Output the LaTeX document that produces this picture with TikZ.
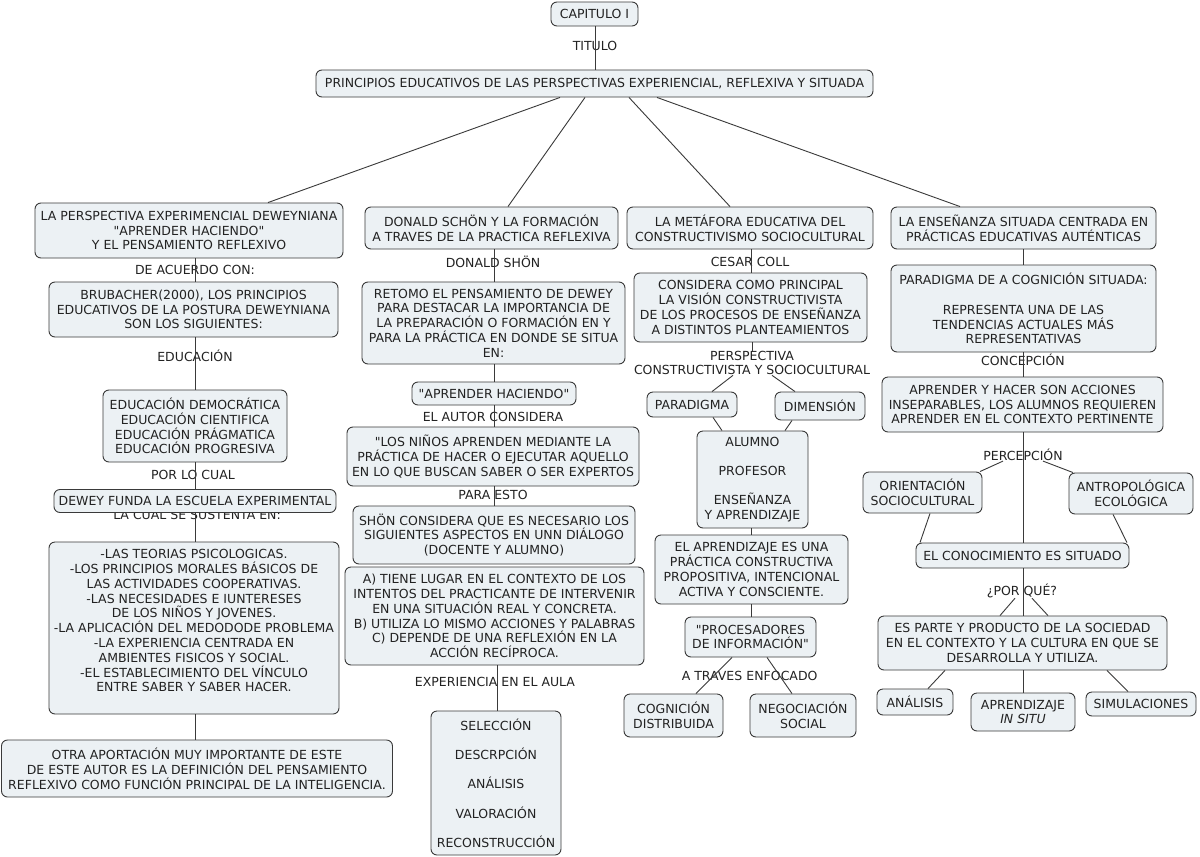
\documentclass[tikz,border=0pt]{standalone}
\usepackage{fontspec}
\setmainfont{DejaVu Sans}
\newfontfamily\mapfont{DejaVu Sans}
\definecolor{boxfill}{HTML}{ECF1F4}
\definecolor{edge}{HTML}{3A3A3A}
\definecolor{ink}{HTML}{222222}
\tikzset{
  cbox/.style={draw=edge, fill=boxfill, rounded corners=6pt, line width=0.9pt,
    align=center, text=ink, font=\mapfont\fontsize{12.5}{14.8}\selectfont, inner sep=0pt},
  sz/.style 2 args={minimum width=#1pt, minimum height=#2pt},
  lbl/.style={text=ink, font=\mapfont\fontsize{12.5}{14.8}\selectfont, inner sep=0pt, align=center},
  link/.style={draw=edge, line width=0.9pt}
}
\begin{document}
\begin{tikzpicture}[x=1pt,y=-1pt]
\fill[white] (0,0) rectangle (1200,857);
\useasboundingbox (0,0) rectangle (1200,857);

\coordinate (colTop) at (595,0);
\coordinate (colA) at (195,0);
\coordinate (colB) at (494,0);
\coordinate (colB2) at (497,0);
\coordinate (colC) at (751,0);
\coordinate (colD) at (1023,0);

% top
\node[cbox, sz={87}{24}] (cap) at (594.5,14) {CAPITULO I};
\node[lbl] (ltit) at (595,46) {TITULO};
\node[cbox, sz={557}{27}] (princ) at (594.5,83.5) {PRINCIPIOS EDUCATIVOS DE LAS PERSPECTIVAS EXPERIENCIAL, REFLEXIVA Y SITUADA};

% column 1
\node[cbox, sz={308}{55}] (c1) at (189,230.5) {LA PERSPECTIVA EXPERIMENCIAL DEWEYNIANA\\"APRENDER HACIENDO"\\Y EL PENSAMIENTO REFLEXIVO};
\node[lbl] (l1) at (195,270) {DE ACUERDO CON:};
\node[cbox, sz={289}{55}] (c2) at (193.5,309.5) {BRUBACHER(2000), LOS PRINCIPIOS\\EDUCATIVOS DE LA POSTURA DEWEYNIANA\\SON LOS SIGUIENTES:};
\node[lbl] (l2) at (195,356) {EDUCACIÓN};
\node[cbox, sz={184}{72}] (c3) at (195,426) {EDUCACIÓN DEMOCRÁTICA\\EDUCACIÓN CIENTIFICA\\EDUCACIÓN PRÁGMATICA\\EDUCACIÓN PROGRESIVA};
\node[lbl] (l3) at (193,475) {POR LO CUAL};
\node[lbl] (l4) at (197,515) {LA CUAL SE SUSTENTA EN:};
\node[cbox, sz={282}{23}] (c4) at (195,501) {DEWEY FUNDA LA ESCUELA EXPERIMENTAL};
\node[cbox, sz={290}{172}] (c5) at (194,628) {-LAS TEORIAS PSICOLOGICAS.\\-LOS PRINCIPIOS MORALES BÁSICOS DE\\LAS ACTIVIDADES COOPERATIVAS.\\-LAS NECESIDADES E IUNTERESES\\DE LOS NIÑOS Y JOVENES.\\-LA APLICACIÓN DEL MEDODODE PROBLEMA\\-LA EXPERIENCIA CENTRADA EN\\AMBIENTES FISICOS Y SOCIAL.\\-EL ESTABLECIMIENTO DEL VÍNCULO\\ENTRE SABER Y SABER HACER.\\\mbox{}};
\node[cbox, sz={391}{57}] (c6) at (197,768.5) {OTRA APORTACIÓN MUY IMPORTANTE DE ESTE\\DE ESTE AUTOR ES LA DEFINICIÓN DEL PENSAMIENTO\\REFLEXIVO COMO FUNCIÓN PRINCIPAL DE LA INTELIGENCIA.};

% column 2
\node[cbox, sz={253}{42}] (d1) at (491.5,228) {DONALD SCHÖN Y LA FORMACIÓN\\A TRAVES DE LA PRACTICA REFLEXIVA};
\node[lbl] (m1) at (493,262) {DONALD SHÖN};
\node[cbox, sz={263}{82}] (d2) at (493.5,323) {RETOMO EL PENSAMIENTO DE DEWEY\\PARA DESTACAR LA IMPORTANCIA DE\\LA PREPARACIÓN O FORMACIÓN EN Y\\PARA LA PRÁCTICA EN DONDE SE SITUA\\EN:};
\node[cbox, sz={164}{23}] (d3) at (494,393.5) {"APRENDER HACIENDO"};
\node[lbl] (m2) at (493,417) {EL AUTOR CONSIDERA};
\node[cbox, sz={292}{59}] (d4) at (493,456.5) {"LOS NIÑOS APRENDEN MEDIANTE LA\\PRÁCTICA DE HACER O EJECUTAR AQUELLO\\EN LO QUE BUSCAN SABER O SER EXPERTOS};
\node[lbl] (m3) at (493,495) {PARA ESTO};
\node[cbox, sz={282}{58}] (d5) at (494,535) {SHÖN CONSIDERA QUE ES NECESARIO LOS\\SIGUIENTES ASPECTOS EN UNN DIÁLOGO\\(DOCENTE Y ALUMNO)};
\node[cbox, sz={299}{98}] (d6) at (494.5,616) {A) TIENE LUGAR EN EL CONTEXTO DE LOS\\INTENTOS DEL PRACTICANTE DE INTERVENIR\\EN UNA SITUACIÓN REAL Y CONCRETA.\\B) UTILIZA LO MISMO ACCIONES Y PALABRAS\\C) DEPENDE DE UNA REFLEXIÓN EN LA\\ACCIÓN RECÍPROCA.};
\node[lbl] (m4) at (495,682) {EXPERIENCIA EN EL AULA};
\node[cbox, sz={130}{144}] (d7) at (496,783) {SELECCIÓN\\[14.5pt]DESCRPCIÓN\\[14.5pt]ANÁLISIS\\[14.5pt]VALORACIÓN\\[14.5pt]RECONSTRUCCIÓN};

% column 3
\node[cbox, sz={246}{42}] (e1) at (750,228) {LA METÁFORA EDUCATIVA DEL\\CONSTRUCTIVISMO SOCIOCULTURAL};
\node[lbl] (n1) at (750,262) {CESAR COLL};
\node[cbox, sz={233}{69}] (e2) at (750.5,307.5) {CONSIDERA COMO PRINCIPAL\\LA VISIÓN CONSTRUCTIVISTA\\DE LOS PROCESOS DE ENSEÑANZA\\A DISTINTOS PLANTEAMIENTOS};
\node[lbl] (pl) at (752,363) {PERSPECTIVA\\CONSTRUCTIVISTA Y SOCIOCULTURAL};
\node[cbox, sz={90}{25}] (e3) at (692,404.5) {PARADIGMA};
\node[cbox, sz={90}{28}] (e4) at (820,406) {DIMENSIÓN};
\node[cbox, sz={111}{97}] (e5) at (752.5,479.5) {ALUMNO\\[14.5pt]PROFESOR\\[14.5pt]ENSEÑANZA\\Y APRENDIZAJE};
\node[cbox, sz={193}{69}] (e6) at (751.5,569.5) {EL APRENDIZAJE ES UNA\\PRÁCTICA CONSTRUCTIVA\\PROPOSITIVA, INTENCIONAL\\ACTIVA Y CONSCIENTE.};
\node[cbox, sz={131}{40}] (e7) at (750.5,637) {"PROCESADORES\\DE INFORMACIÓN"};
\node[lbl] (n2) at (712,676) {A TRAVES};
\node[lbl] (n3) at (782,676) {ENFOCADO};
\node[cbox, sz={99}{43}] (e8) at (673.5,715.5) {COGNICIÓN\\DISTRIBUIDA};
\node[cbox, sz={106}{43}] (e9) at (803,715.5) {NEGOCIACIÓN\\SOCIAL};

% column 4
\node[cbox, sz={265}{42}] (f1) at (1023.5,228) {LA ENSEÑANZA SITUADA CENTRADA EN\\PRÁCTICAS EDUCATIVAS AUTÉNTICAS};
\node[cbox, sz={265}{87}] (f2) at (1023.5,308.5) {PARADIGMA DE A COGNICIÓN SITUADA:\\[14.8pt]REPRESENTA UNA DE LAS\\TENDENCIAS ACTUALES MÁS\\REPRESENTATIVAS};
\node[lbl] (o1) at (1023,360) {CONCEPCIÓN};
\node[cbox, sz={281}{55}] (f3) at (1022.5,404.5) {APRENDER Y HACER SON ACCIONES\\INSEPARABLES, LOS ALUMNOS REQUIEREN\\APRENDER EN EL CONTEXTO PERTINENTE};
\node[lbl] (pc) at (1023,455) {PERCEPCIÓN};
\node[cbox, sz={119}{41}] (f4) at (922.5,492.5) {ORIENTACIÓN\\SOCIOCULTURAL};
\node[cbox, sz={124}{41}] (f5) at (1131,493.5) {ANTROPOLÓGICA\\ECOLÓGICA};
\node[cbox, sz={213}{25}] (f6) at (1022.5,555.5) {EL CONOCIMIENTO ES SITUADO};
\node[lbl] (pq) at (1022,591) {¿POR QUÉ?};
\node[cbox, sz={289}{54}] (f7) at (1022.5,643) {ES PARTE Y PRODUCTO DE LA SOCIEDAD\\EN EL CONTEXTO Y LA CULTURA EN QUE SE\\DESARROLLA Y UTILIZA.};
\node[cbox, sz={76}{26}] (f8) at (915,702) {ANÁLISIS};
\node[cbox, sz={104}{38}] (f9) at (1023,712) {APRENDIZAJE\\\textit{IN SITU}};
\node[cbox, sz={110}{24}] (f10) at (1141,704) {SIMULACIONES};

% connectors: top
\draw[link] (cap.south -| colTop) -- (princ.north -| colTop);
\draw[link] ([xshift=-34.5pt]princ.south) -- ([xshift=79pt]c1.north);
\draw[link] ([xshift=-9.5pt]princ.south) -- ([xshift=16.5pt]d1.north);
\draw[link] ([xshift=34.5pt]princ.south) -- ([xshift=-20pt]e1.north);
\draw[link] ([xshift=62.5pt]princ.south) -- ([xshift=-63.5pt]f1.north);

% column 1
\draw[link] (c1.south -| colA) -- (c2.north -| colA);
\draw[link] (c2.south -| colA) -- (c3.north -| colA);
\draw[link] (c3.south -| colA) -- (c4.north -| colA);
\draw[link] (c4.south -| colA) -- (c5.north -| colA);
\draw[link] (c5.south -| colA) -- (c6.north -| colA);

% column 2
\draw[link] (d1.south -| colB) -- (d2.north -| colB);
\draw[link] (d2.south -| colB) -- (d3.north -| colB);
\draw[link] (d3.south -| colB) -- (d4.north -| colB);
\draw[link] (d4.south -| colB) -- (d5.north -| colB);
\draw[link] (d6.south -| colB2) -- (d7.north -| colB2);

% column 3
\draw[link] (e1.south -| colC) -- (e2.north -| colC);
\draw[link] (e2.south -| pl) -- (pl.north);
\draw[link] ([xshift=-19pt]pl.south) -- ([xshift=20pt]e3.north);
\draw[link] ([xshift=20pt]pl.south) -- ([xshift=-25pt]e4.north);
\draw[link] ([xshift=21pt]e3.south) -- ([xshift=-30.5pt]e5.north);
\draw[link] ([xshift=-28pt]e4.south) -- ([xshift=32.5pt]e5.north);
\draw[link] (e5.south -| colC) -- (e6.north -| colC);
\draw[link] (e6.south -| colC) -- (e7.north -| colC);
\draw[link] ([xshift=-18.5pt]e7.south) -- ([xshift=22.5pt]e8.north);
\draw[link] ([xshift=16.5pt]e7.south) -- ([xshift=-11pt]e9.north);

% column 4
\draw[link] (f1.south -| colD) -- (f2.north -| colD);
\draw[link] (f2.south -| colD) -- (f3.north -| colD);
\draw[link] (f3.south -| colD) -- (f6.north -| colD);
\draw[link] ([xshift=-20pt]pc.south) -- ([xshift=57.5pt]f4.north);
\draw[link] ([xshift=20pt]pc.south) -- ([xshift=-58pt]f5.north);
\draw[link] ([xshift=7.5pt]f4.south) -- ([xshift=-102.5pt]f6.north);
\draw[link] ([xshift=-18pt]f5.south) -- ([xshift=104.5pt]f6.north);
\draw[link] (f6.south -| colD) -- (f7.north -| colD);
\draw[link] ([xshift=-7pt]pq.south) -- ([xshift=-22.5pt]f7.north);
\draw[link] ([xshift=10pt]pq.south) -- ([xshift=25.5pt]f7.north);
\draw[link] ([xshift=-77.5pt]f7.south) -- ([xshift=13pt]f8.north);
\draw[link] (f7.south -| colD) -- (f9.north -| colD);
\draw[link] ([xshift=84.5pt]f7.south) -- ([xshift=-13pt]f10.north);
\end{tikzpicture}
\end{document}
